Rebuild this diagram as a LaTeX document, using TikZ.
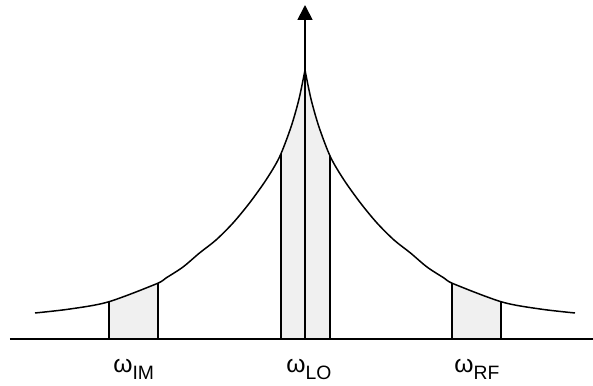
\documentclass[tikz,border=0pt]{standalone}
\usepackage{fontspec}
\setmainfont{Liberation Sans}
\usetikzlibrary{arrows.meta}
\usetikzlibrary{positioning}

\tikzset{
  band/.style={fill=black!6,draw=none},
  edge/.style={black,line width=0.7pt},
  freq/.style={font=\fontsize{14}{14}\selectfont,inner sep=0pt,anchor=base west}
}
\newcommand{\sublbl}[1]{\raisebox{-4pt}{\fontsize{11}{11}\selectfont #1}}

\begin{document}
\begin{tikzpicture}
\useasboundingbox (0,0) rectangle (11.86,7.7);
\coordinate (axL) at (0.2,0.92);
\coordinate (axR) at (11.86,0.92);
\coordinate (org) at (6.1,0.92);
\coordinate (tip) at (6.1,7.6);

\begin{scope}
\clip (0.7,0.92) -- plot[smooth] coordinates {(0.7,1.44) (1.4,1.52) (2.16,1.66) (3.12,2.02) (3.32,2.14) (3.66,2.36) (3.99,2.64) (4.32,2.9) (4.66,3.24) (4.99,3.64) (5.32,4.1) (5.59,4.56) (5.82,5.16) (5.98,5.72) (6.1,6.3)}
  -- plot[smooth] coordinates {(6.1,6.3) (6.22,5.72) (6.38,5.16) (6.61,4.56) (6.88,4.1) (7.21,3.64) (7.54,3.24) (7.88,2.9) (8.21,2.64) (8.54,2.36) (8.88,2.14) (9.08,2.02) (10.04,1.66) (10.8,1.52) (11.5,1.44)}
  -- (11.5,0.92) -- cycle;
\fill[band] (2.18,0.92) rectangle (3.16,7);
\fill[band] (5.62,0.92) rectangle (6.6,7);
\fill[band] (9.04,0.92) rectangle (10.02,7);
\foreach \xs in {2.18,3.16,5.62,6.6,9.04,10.02}
  \draw[edge] (\xs,0.92) -- (\xs,7);
\end{scope}

\draw[line width=0.85pt] plot[smooth] coordinates {(0.7,1.44) (1.4,1.52) (2.16,1.66) (3.12,2.02) (3.32,2.14) (3.66,2.36) (3.99,2.64) (4.32,2.9) (4.66,3.24) (4.99,3.64) (5.32,4.1) (5.59,4.56) (5.82,5.16) (5.98,5.72) (6.1,6.3)}
  -- plot[smooth] coordinates {(6.1,6.3) (6.22,5.72) (6.38,5.16) (6.61,4.56) (6.88,4.1) (7.21,3.64) (7.54,3.24) (7.88,2.9) (8.21,2.64) (8.54,2.36) (8.88,2.14) (9.08,2.02) (10.04,1.66) (10.8,1.52) (11.5,1.44)};

\draw[line width=1.4pt] (axL) -- (axR);
\draw[line width=1pt,-{Triangle[length=0.3cm,width=0.3cm]}] (org) -- (tip);

\node[freq] (wIM) at (2.26,0.26) {ω\sublbl{IM}};
\node[freq] (wLO) at (5.72,0.26) {ω\sublbl{LO}};
\node[freq] (wRF) at (9.08,0.26) {ω\sublbl{RF}};
\end{tikzpicture}
\end{document}
